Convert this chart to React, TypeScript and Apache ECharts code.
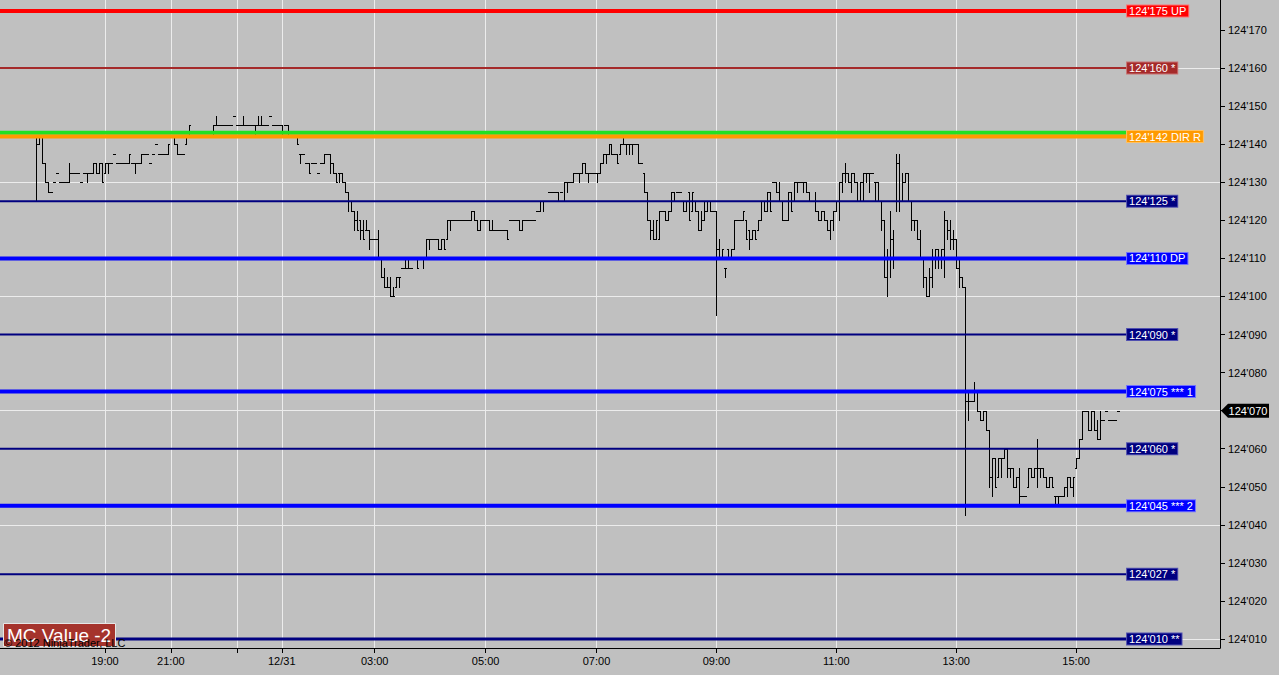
import React, { useEffect, useRef } from 'react';
import * as echarts from 'echarts';

const FONT = "'Liberation Sans', Arial, sans-serif";

// price axis ticks and white grid lines (values in 124'xxx units)
const yTickValues = [10, 20, 30, 40, 50, 60, 70, 80, 90, 100, 110, 120, 130, 140, 150, 160, 170];
const gridValues = [10, 40, 70, 100, 130, 160];

// time axis: bar slots, labelled ticks
const categoryCount = 408;
const firstBarIndex = 12;
const tickIndexes = [35, 57, 79, 94, 125, 162, 199, 239, 279, 319, 359];
const tickLabels = ['19:00', '21:00', ' ', '12/31', '03:00', '05:00', '07:00', '09:00', '11:00', '13:00', '15:00'];

// horizontal levels
const levelValues = [175, 160, 143, 142, 125, 110, 90, 75, 60, 45, 27, 10];
const levelTags = ['UP', '*', '', 'DIR R', '*', 'DP', '*', '*** 1', '*', '*** 2', '*', '**'];
const levelColors = ['#ff0000', '#a52a2a', '#22e022', '#ff9a00', '#000080', '#0000ff', '#000080', '#0000ff', '#000080', '#0000ff', '#000080', '#000080'];
const levelBorders = ['#ff7070', '#c87070', '#80ff80', '#ffc060', '#5050b0', '#7070ff', '#5050b0', '#7070ff', '#5050b0', '#7070ff', '#5050b0', '#5050b0'];
const levelWidths = [4, 2, 4, 4, 2, 4, 2, 4, 2, 4, 2, 3];
const levelEndIndex = 376;

const mcValue = -2;
const copyright = '\u00a9 2012 NinjaTrader, LLC';

// OHLC bars [open, high, low, close]
const barsEvening = [
  [142.5, 142.5, 125, 140], [140, 142.5, 140, 142.5], [142.5, 142.5, 135, 135], [135, 135, 130, 130], [130, 130, 127.5, 127.5],
  [127.5, 127.5, 127.5, 127.5], [130, 130, 130, 130], [132.5, 132.5, 132.5, 132.5], [130, 130, 130, 130], [130, 130, 130, 130],
  [130, 130, 130, 130], [130, 135, 130, 132.5], [132.5, 132.5, 132.5, 132.5], [132.5, 132.5, 132.5, 132.5], [132.5, 132.5, 132.5, 132.5],
  [130, 130, 130, 130], [132.5, 132.5, 132.5, 132.5], [132.5, 132.5, 130, 132.5], [132.5, 132.5, 132.5, 132.5], [132.5, 135, 132.5, 135],
  [135, 135, 132.5, 132.5], [132.5, 135, 132.5, 135], [135, 135, 130, 130], [132.5, 135, 132.5, 135], [135, 135, 132.5, 135],
  [135, 135, 135, 135], [137.5, 137.5, 137.5, 137.5], [135, 135, 135, 135], [135, 135, 135, 135], [135, 135, 135, 135],
  [135, 135, 135, 135], [135, 137.5, 135, 137.5], [135, 135, 135, 135], [135, 135, 132.5, 135], [135, 135, 135, 135],
  [135, 137.5, 135, 137.5], [137.5, 137.5, 137.5, 137.5], [137.5, 137.5, 137.5, 137.5], [135, 135, 135, 135], [137.5, 137.5, 137.5, 137.5],
  [140, 140, 140, 140], [137.5, 137.5, 137.5, 137.5], [137.5, 137.5, 137.5, 137.5], [137.5, 137.5, 137.5, 137.5], [137.5, 140, 137.5, 140],
  [142.5, 142.5, 142.5, 142.5], [142.5, 142.5, 140, 140], [140, 140, 137.5, 137.5], [137.5, 137.5, 137.5, 137.5], [137.5, 137.5, 137.5, 137.5],
  [140, 142.5, 140, 142.5], [142.5, 145, 142.5, 145], [142.5, 142.5, 142.5, 142.5], [142.5, 142.5, 142.5, 142.5], [142.5, 142.5, 142.5, 142.5],
  [142.5, 142.5, 142.5, 142.5], [142.5, 142.5, 142.5, 142.5], [142.5, 142.5, 142.5, 142.5], [142.5, 142.5, 142.5, 142.5], [142.5, 145, 142.5, 145],
  [145, 147.5, 145, 145], [145, 145, 145, 145], [145, 145, 145, 145], [145, 145, 145, 145], [145, 145, 145, 145],
  [145, 145, 145, 145], [147.5, 147.5, 147.5, 147.5], [145, 145, 145, 145], [145, 145, 145, 145], [145, 147.5, 145, 145],
  [145, 145, 145, 145], [145, 145, 145, 145], [145, 145, 145, 145], [145, 145, 142.5, 145], [145, 147.5, 145, 145],
  [145, 147.5, 145, 145], [145, 145, 145, 145], [145, 145, 145, 145], [147.5, 147.5, 147.5, 147.5], [145, 145, 145, 145],
  [145, 145, 145, 145], [145, 145, 145, 145], [145, 145, 142.5, 142.5], [145, 145, 145, 145], [145, 145, 142.5, 142.5],
  [142.5, 142.5, 142.5, 142.5], [142.5, 142.5, 142.5, 142.5], [142.5, 142.5, 140, 140], [137.5, 137.5, 135, 137.5], [137.5, 137.5, 137.5, 137.5],
  [135, 135, 135, 135], [135, 135, 132.5, 132.5], [135, 135, 135, 135], [135, 135, 135, 135],
];

const barsNight = [
  [132.5, 132.5, 132.5, 132.5], [135, 135, 135, 135], [135, 137.5, 135, 137.5], [137.5, 137.5, 137.5, 137.5], [137.5, 137.5, 132.5, 135],
  [135, 135, 132.5, 132.5], [132.5, 132.5, 130, 130], [132.5, 132.5, 130, 132.5], [132.5, 132.5, 130, 130], [130, 130, 127.5, 127.5],
  [127.5, 127.5, 122.5, 125], [125, 125, 122.5, 122.5], [122.5, 122.5, 117.5, 120], [120, 122.5, 117.5, 117.5], [120, 120, 115, 117.5],
  [117.5, 120, 115, 115], [117.5, 120, 117.5, 117.5], [117.5, 117.5, 112.5, 115], [115, 115, 115, 115], [115, 115, 115, 115],
  [115, 117.5, 110, 110], [110, 110, 105, 105], [105, 107.5, 102.5, 102.5], [102.5, 105, 102.5, 102.5], [102.5, 105, 100, 100],
  [100, 102.5, 100, 100], [102.5, 105, 102.5, 105], [105, 105, 102.5, 105], [107.5, 107.5, 107.5, 107.5], [107.5, 110, 107.5, 107.5],
  [107.5, 110, 107.5, 107.5], [107.5, 107.5, 107.5, 107.5], [110, 110, 110, 110], [110, 110, 107.5, 107.5], [110, 110, 110, 110],
  [110, 110, 107.5, 110], [110, 115, 110, 115], [115, 115, 112.5, 115], [115, 115, 115, 115], [115, 115, 115, 115],
  [115, 115, 112.5, 112.5], [112.5, 115, 112.5, 115], [115, 115, 112.5, 112.5], [115, 120, 115, 120], [120, 120, 117.5, 120],
  [120, 120, 120, 120], [120, 120, 120, 120], [120, 120, 120, 120], [120, 120, 120, 120], [120, 120, 120, 120],
  [120, 120, 120, 120], [120, 122.5, 120, 122.5], [122.5, 122.5, 120, 120], [120, 120, 117.5, 117.5], [117.5, 120, 117.5, 120],
  [120, 120, 120, 120], [120, 120, 120, 120], [120, 120, 117.5, 117.5], [117.5, 120, 117.5, 117.5], [117.5, 117.5, 117.5, 117.5],
  [117.5, 117.5, 117.5, 117.5], [117.5, 117.5, 117.5, 117.5], [117.5, 117.5, 117.5, 117.5], [117.5, 117.5, 115, 115], [120, 120, 120, 120],
  [120, 120, 120, 120], [120, 120, 120, 120], [120, 120, 117.5, 117.5], [117.5, 120, 117.5, 120], [120, 120, 120, 120],
  [120, 120, 120, 120], [120, 120, 120, 120], [120, 120, 120, 120], [122.5, 122.5, 122.5, 122.5], [122.5, 125, 122.5, 125],
  [125, 125, 122.5, 125], [125, 125, 125, 125], [127.5, 127.5, 127.5, 127.5], [127.5, 127.5, 127.5, 127.5], [127.5, 127.5, 127.5, 127.5],
  [127.5, 127.5, 125, 125], [127.5, 127.5, 127.5, 127.5], [125, 130, 125, 130], [130, 130, 127.5, 130], [130, 130, 130, 130],
  [130, 132.5, 130, 132.5], [132.5, 132.5, 132.5, 132.5], [132.5, 132.5, 130, 132.5], [132.5, 135, 132.5, 135], [135, 135, 132.5, 132.5],
  [132.5, 132.5, 130, 132.5], [132.5, 132.5, 132.5, 132.5], [132.5, 132.5, 132.5, 132.5],
];

const barsMorning = [
  [132.5, 132.5, 130, 132.5], [132.5, 135, 132.5, 135], [135, 137.5, 135, 137.5], [137.5, 137.5, 135, 137.5], [137.5, 140, 137.5, 140],
  [140, 140, 137.5, 137.5], [137.5, 137.5, 137.5, 137.5], [137.5, 137.5, 135, 135], [137.5, 140, 137.5, 140], [140, 142.5, 140, 140],
  [140, 140, 137.5, 140], [140, 140, 137.5, 140], [140, 140, 137.5, 140], [140, 140, 140, 140], [140, 140, 135, 135],
  [135, 135, 135, 135], [132.5, 132.5, 127.5, 127.5], [127.5, 127.5, 120, 120], [120, 120, 115, 117.5], [117.5, 120, 115, 115],
  [115, 120, 115, 120], [115, 122.5, 115, 122.5], [122.5, 122.5, 122.5, 122.5], [122.5, 122.5, 120, 120], [120, 122.5, 120, 122.5],
  [122.5, 127.5, 122.5, 127.5], [127.5, 127.5, 125, 125], [127.5, 127.5, 127.5, 127.5], [127.5, 127.5, 127.5, 127.5], [125, 125, 122.5, 122.5],
  [122.5, 125, 122.5, 125], [127.5, 127.5, 120, 120], [122.5, 127.5, 122.5, 127.5], [125, 125, 122.5, 122.5], [122.5, 122.5, 117.5, 117.5],
  [117.5, 122.5, 117.5, 120], [120, 125, 120, 122.5], [122.5, 125, 122.5, 125], [125, 125, 122.5, 122.5], [122.5, 122.5, 122.5, 122.5],
  [122.5, 122.5, 95, 112.5], [112.5, 115, 110, 110], [110, 112.5, 110, 112.5], [107.5, 107.5, 105, 107.5], [112.5, 112.5, 110, 110],
  [110, 112.5, 110, 112.5], [112.5, 120, 112.5, 120], [120, 120, 120, 120], [120, 120, 120, 120], [120, 122.5, 120, 122.5],
  [120, 120, 115, 115], [117.5, 117.5, 112.5, 115], [115, 117.5, 115, 117.5], [117.5, 117.5, 115, 115], [117.5, 120, 117.5, 120],
  [120, 125, 120, 125], [125, 125, 122.5, 122.5], [122.5, 127.5, 122.5, 127.5], [127.5, 127.5, 122.5, 122.5], [130, 130, 130, 130],
  [130, 130, 127.5, 127.5], [127.5, 130, 125, 125], [125, 125, 120, 120], [120, 120, 120, 120], [120, 127.5, 120, 127.5],
  [127.5, 127.5, 122.5, 122.5], [125, 130, 125, 130], [130, 130, 127.5, 130], [130, 130, 130, 130], [130, 130, 127.5, 130],
  [130, 130, 127.5, 127.5], [127.5, 127.5, 125, 125], [125, 125, 125, 125], [125, 127.5, 122.5, 122.5], [122.5, 122.5, 120, 120],
  [120, 122.5, 120, 122.5], [122.5, 122.5, 120, 120], [120, 120, 117.5, 117.5], [117.5, 120, 115, 120], [120, 122.5, 117.5, 122.5],
  [122.5, 125, 122.5, 125], [125, 130, 120, 130], [130, 132.5, 127.5, 132.5], [132.5, 135, 130, 132.5], [132.5, 132.5, 130, 130],
  [130, 132.5, 127.5, 132.5], [132.5, 132.5, 130, 130], [130, 130, 125, 125], [125, 130, 125, 130], [130, 132.5, 125, 132.5],
  [132.5, 132.5, 130, 132.5], [132.5, 132.5, 127.5, 132.5], [132.5, 132.5, 132.5, 132.5], [130, 130, 125, 130],
];

const barsAfternoon = [
  [130, 130, 125, 125], [125, 125, 117.5, 120], [120, 120, 105, 105], [105, 112.5, 100, 110], [110, 122.5, 105, 115],
  [115, 117.5, 107.5, 110], [125, 137.5, 122.5, 135], [135, 137.5, 122.5, 125], [125, 132.5, 125, 130], [130, 132.5, 130, 132.5],
  [132.5, 132.5, 125, 125], [125, 125, 117.5, 120], [120, 120, 117.5, 120], [120, 120, 115, 115], [115, 117.5, 110, 110],
  [110, 110, 102.5, 105], [105, 105, 100, 100], [100, 107.5, 100, 105], [105, 112.5, 102.5, 110], [110, 112.5, 107.5, 112.5],
  [112.5, 112.5, 107.5, 110], [110, 112.5, 107.5, 112.5], [112.5, 122.5, 105, 120], [120, 120, 115, 117.5], [117.5, 120, 112.5, 115],
  [115, 117.5, 112.5, 115], [115, 115, 107.5, 107.5], [107.5, 110, 102.5, 105], [105, 105, 102.5, 102.5], [102.5, 102.5, 42.5, 72.5],
  [72.5, 75, 67.5, 72.5], [72.5, 72.5, 72.5, 72.5], [72.5, 77.5, 72.5, 75], [75, 75, 70, 70], [70, 70, 67.5, 67.5],
  [67.5, 70, 67.5, 70], [70, 70, 65, 65], [65, 65, 50, 52.5], [52.5, 57.5, 47.5, 57.5], [57.5, 57.5, 50, 50],
  [52.5, 57.5, 52.5, 57.5], [57.5, 57.5, 52.5, 57.5], [57.5, 60, 57.5, 60], [60, 60, 52.5, 55], [55, 55, 52.5, 55],
  [55, 55, 50, 50], [50, 52.5, 50, 52.5], [52.5, 55, 45, 47.5], [47.5, 47.5, 47.5, 47.5], [47.5, 47.5, 47.5, 47.5],
  [50, 55, 50, 55], [55, 55, 52.5, 52.5], [52.5, 55, 52.5, 55], [55, 62.5, 50, 55], [55, 55, 52.5, 55],
  [55, 55, 52.5, 52.5], [52.5, 52.5, 50, 50], [50, 52.5, 50, 52.5], [52.5, 52.5, 50, 50], [47.5, 47.5, 45, 47.5],
  [47.5, 47.5, 45, 47.5], [47.5, 47.5, 47.5, 47.5], [47.5, 50, 47.5, 50], [50, 52.5, 47.5, 52.5], [52.5, 52.5, 50, 50],
  [50, 52.5, 47.5, 52.5], [55, 57.5, 55, 57.5], [57.5, 62.5, 57.5, 62.5], [62.5, 70, 62.5, 70], [70, 70, 70, 70],
  [70, 70, 65, 65], [65, 70, 65, 70], [70, 70, 65, 65], [65, 67.5, 62.5, 62.5], [62.5, 70, 62.5, 67.5],
  [67.5, 67.5, 67.5, 67.5], [70, 70, 70, 70], [67.5, 67.5, 67.5, 67.5], [67.5, 67.5, 67.5, 67.5], [67.5, 67.5, 67.5, 67.5],
  [70, 70, 70, 70],
];

const fmt = (v: number) => "124'" + String(Math.round(v)).padStart(3, '0');

export default function App() {
  const ref = useRef<HTMLDivElement>(null);

  useEffect(() => {
    if (!ref.current) return;
    const chart = echarts.init(ref.current, undefined, { renderer: 'svg' });

    const bars = [...barsEvening, ...barsNight, ...barsMorning, ...barsAfternoon];
    const barData = bars.map((b, k) => [firstBarIndex + k, b[0], b[1], b[2], b[3]]);
    const lastIndex = firstBarIndex + bars.length - 1;
    const lastClose = bars[bars.length - 1][3];

    const categories: string[] = [];
    for (let i = 0; i < categoryCount; i++) categories.push('');
    tickIndexes.forEach((idx, j) => { categories[idx] = tickLabels[j]; });
    const shown = (_i: number, v: string) => v !== '';

    const levelSeries = levelValues.map((v, j) => ({
      type: 'line',
      name: 'level' + j,
      data: [[0, v], [levelEndIndex, v]],
      symbol: 'none',
      silent: true,
      z: 3,
      lineStyle: { color: levelColors[j], width: levelWidths[j] },
      endLabel: {
        show: levelTags[j] !== '',
        formatter: () => fmt(v) + ' ' + levelTags[j],
        color: '#ffffff',
        backgroundColor: levelColors[j],
        borderColor: levelBorders[j],
        borderWidth: 1,
        padding: [0, 2],
        fontSize: 11,
        lineHeight: 11,
        fontFamily: FONT,
        distance: 0,
      },
    }));

    const option: any = {
      animation: false,
      backgroundColor: '#c0c0c0',
      grid: { left: -1.5, right: 59, top: 0, bottom: 27 },
      xAxis: {
        type: 'category',
        data: categories,
        boundaryGap: false,
        axisLine: { lineStyle: { color: '#000', width: 1 } },
        axisTick: { interval: shown, length: 5, lineStyle: { color: '#000' } },
        axisLabel: { interval: shown, color: '#000', fontSize: 11, fontFamily: FONT, margin: 7, hideOverlap: false },
        splitLine: { show: true, interval: shown, lineStyle: { color: '#ececec', width: 1 } },
      },
      yAxis: {
        type: 'value',
        position: 'right',
        min: 7.64,
        max: 177.88,
        axisLine: { show: true, lineStyle: { color: '#000' } },
        axisTick: { show: true, length: 5, customValues: yTickValues, lineStyle: { color: '#000' } },
        axisLabel: { customValues: yTickValues, formatter: (v: number) => fmt(v), color: '#000', fontSize: 11, fontFamily: FONT, margin: 8 },
        splitLine: { show: false },
      },
      graphic: [
        { type: 'rect', z: 100, shape: { x: 3.5, y: 623.5, width: 112, height: 23 }, style: { fill: '#a5332c', stroke: '#e6e6e6', lineWidth: 1 } },
        { type: 'text', z: 101, x: 7, y: 635.5, style: { text: `MC Value ${mcValue}`, fill: '#ffffff', fontSize: 19, fontFamily: FONT, verticalAlign: 'middle' } },
        { type: 'text', z: 102, x: 4, y: 642.5, style: { text: copyright, fill: '#000', fontSize: 11, fontFamily: FONT, verticalAlign: 'middle' } },
      ],
      series: [
        {
          type: 'line',
          name: 'grid',
          data: [[lastIndex, lastClose]],
          symbol: 'none',
          showSymbol: false,
          silent: true,
          clip: false,
          z: 1,
          lineStyle: { width: 0 },
          markLine: {
            silent: true,
            z: 1,
            symbol: 'none',
            label: { show: false },
            lineStyle: { color: '#ececec', width: 1, type: 'solid' },
            data: gridValues.map((v) => ({ yAxis: v })),
          },
          markPoint: {
            z: 10,
            symbol: 'path://M0,7L7,0L48,0L48,14L7,14Z',
            symbolSize: [48, 14],
            symbolKeepAspect: false,
            symbolOffset: [25, 0],
            itemStyle: { color: '#000' },
            label: {
              show: true,
              position: 'inside',
              offset: [3, 0],
              color: '#fff',
              fontSize: 11,
              fontFamily: FONT,
              formatter: () => fmt(lastClose),
            },
            data: [{ coord: [categoryCount - 1, lastClose], value: lastClose }],
          },
        },
        {
          type: 'custom',
          name: 'price',
          z: 2,
          silent: true,
          data: barData,
          encode: { x: 0, y: [1, 2, 3, 4] },
          renderItem: (_params: any, api: any) => {
            const i = api.value(0);
            const pH = api.coord([i, api.value(2)]);
            const yL = api.coord([i, api.value(3)])[1];
            const yO = api.coord([i, api.value(1)])[1];
            const yC = api.coord([i, api.value(4)])[1];
            const X = Math.round(pH[0]);
            const r = (v: number) => Math.round(v) + 0.5;
            const st = { stroke: '#000', lineWidth: 1 };
            return {
              type: 'group',
              children: [
                { type: 'line', shape: { x1: X + 0.5, y1: Math.round(pH[1]), x2: X + 0.5, y2: Math.round(yL) + 1 }, style: st },
                { type: 'line', shape: { x1: X - 1, y1: r(yO), x2: X + 1, y2: r(yO) }, style: st },
                { type: 'line', shape: { x1: X, y1: r(yC), x2: X + 2, y2: r(yC) }, style: st },
              ],
            };
          },
        },
        ...levelSeries,
      ],
    };

    chart.setOption(option);
    return () => chart.dispose();
  }, []);

  return <div ref={ref} style={{ position: 'fixed', left: 0, top: 0, width: 1279, height: 675 }} />;
}
